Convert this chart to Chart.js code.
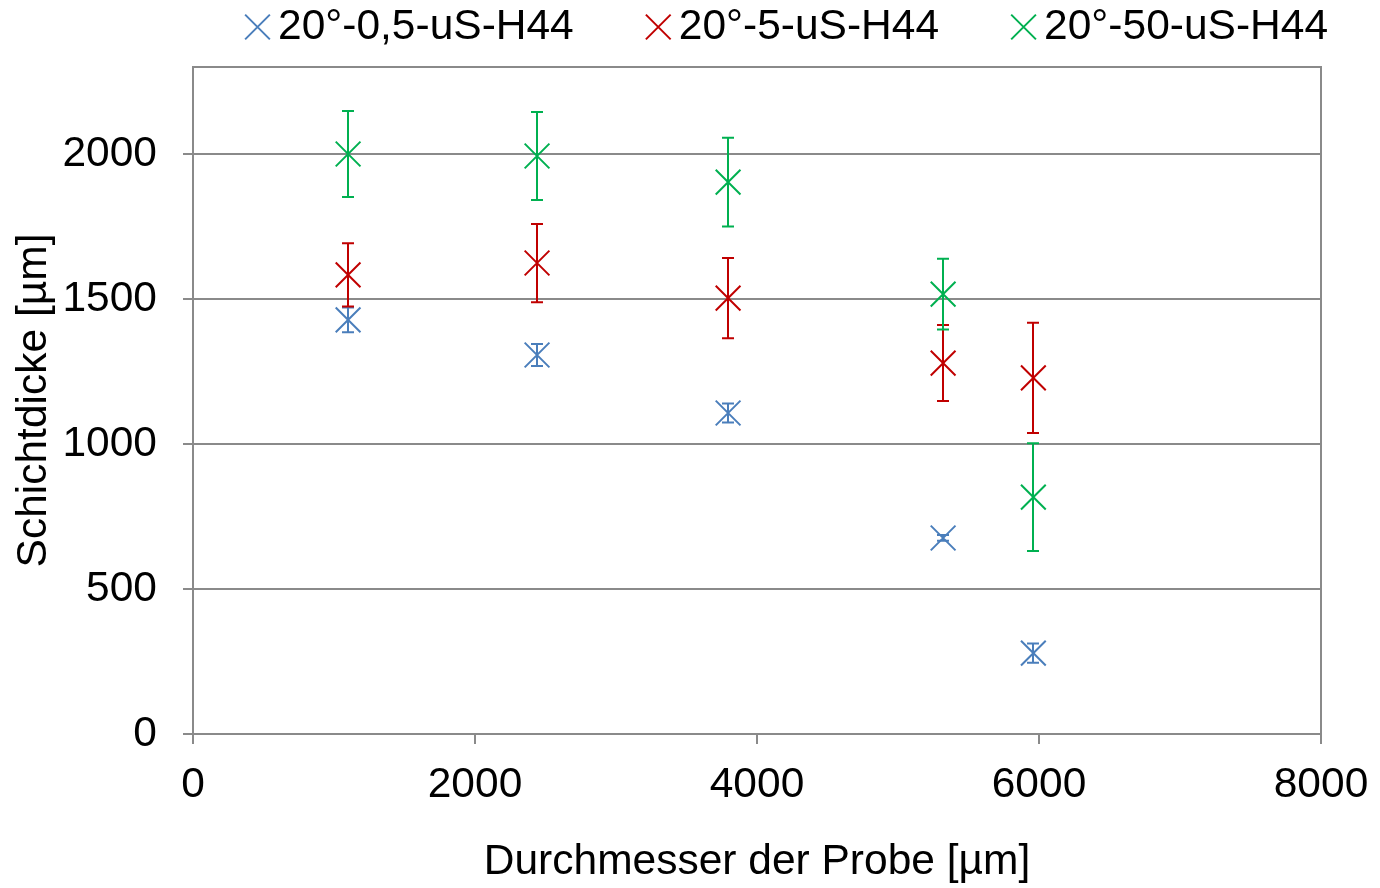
<!DOCTYPE html>
<html>
<head>
<meta charset="utf-8">
<script src="https://cdn.jsdelivr.net/npm/chart.js@4.4.1/dist/chart.umd.min.js"></script>
<style>
  html, body { margin: 0; padding: 0; background: #fff; }
</style>
</head>
<body>
<canvas id="myChart" width="1380" height="888"></canvas>
<script>
// sample diameters (x) shared by all series
const diameters = [1100, 2440, 3795, 5320, 5960];

// layer thickness + error (half range) per series
const blueY = [1428, 1307, 1107, 676, 279];
const blueErr = [43, 38, 33, 10, 33];
const redY = [1583, 1624, 1503, 1279, 1228];
const redErr = [109, 135, 138, 131, 190];
const greenY = [2000, 1993, 1903, 1517, 817];
const greenErr = [148, 152, 153, 122, 186];

const seriesLabels = ['20°-0,5-uS-H44', '20°-5-uS-H44', '20°-50-uS-H44'];
const seriesColors = ['#4a7ebb', '#c00000', '#00b050'];

const xTicks = [0, 2000, 4000, 6000, 8000];
const yTicks = [0, 500, 1000, 1500, 2000];

const family = "'Liberation Sans', Arial, sans-serif";
const font = { family: family, size: 42.5 };
const gray = '#8a8a8a';

function toPoints(ys) {
  return ys.map((v, i) => ({ x: diameters[i], y: v }));
}

const allY = [blueY, redY, greenY];
const allErr = [blueErr, redErr, greenErr];

var datasets = [];
seriesLabels.forEach((label, i) => {
  datasets.push({
    label: label,
    data: toPoints(allY[i]),
    errors: allErr[i],
    borderColor: seriesColors[i],
    backgroundColor: seriesColors[i],
    pointStyle: 'crossRot',
    pointRadius: 17.5,
    pointBorderWidth: 2,
    pointHoverRadius: 17.5,
  });
});

// vertical error bars with caps
const errorBars = {
  id: 'errorBars',
  afterDatasetsDraw(chart) {
    const { ctx, scales: { x, y } } = chart;
    chart.data.datasets.forEach((ds) => {
      ctx.save();
      ctx.strokeStyle = ds.borderColor;
      ctx.lineWidth = 2;
      ds.data.forEach((p, j) => {
        const px = Math.round(x.getPixelForValue(p.x));
        const top = y.getPixelForValue(p.y + ds.errors[j]);
        const bot = y.getPixelForValue(p.y - ds.errors[j]);
        ctx.beginPath();
        ctx.moveTo(px, top); ctx.lineTo(px, bot);
        ctx.moveTo(px - 6, top); ctx.lineTo(px + 6, top);
        ctx.moveTo(px - 6, bot); ctx.lineTo(px + 6, bot);
        ctx.stroke();
      });
      ctx.restore();
    });
  }
};

// top and right border of plot area
const frame = {
  id: 'frame',
  afterDraw(chart) {
    const { ctx, chartArea: a } = chart;
    ctx.save();
    ctx.strokeStyle = gray;
    ctx.lineWidth = 2;
    ctx.beginPath();
    ctx.moveTo(a.left, a.top);
    ctx.lineTo(a.right, a.top);
    ctx.lineTo(a.right, a.bottom);
    ctx.stroke();
    ctx.restore();
  }
};

// legend row on top (markers close to text, wide gaps between items)
const topLegend = {
  id: 'topLegend',
  afterDraw(chart) {
    const ctx = chart.ctx;
    ctx.save();
    ctx.font = '42.5px ' + family;
    ctx.textBaseline = 'middle';
    ctx.fillStyle = '#000';
    let x = 245;
    const y = 27;
    chart.data.datasets.forEach((ds) => {
      ctx.strokeStyle = ds.borderColor;
      ctx.lineWidth = 2;
      Chart.helpers.drawPoint(ctx, { pointStyle: 'crossRot', radius: 17.5, borderWidth: 2, rotation: 0 }, x + 12.5, y);
      ctx.fillText(ds.label, x + 33, y);
      x += 33 + ctx.measureText(ds.label).width + 72;
    });
    ctx.restore();
  }
};

const myChart = new Chart(document.getElementById('myChart'), {
  type: 'scatter',
  data: { datasets },
  options: {
    responsive: false,
    animation: false,
    layout: { padding: { top: 67, right: 59, left: 0, bottom: 0 } },
    plugins: {
      legend: { display: false },
      tooltip: { enabled: false },
    },
    scales: {
      x: {
        type: 'linear',
        min: 0,
        max: 8000,
        afterBuildTicks(s) { s.ticks = xTicks.map(v => ({ value: v })); },
        afterFit(s) { s.height = 154; s.paddingLeft = 0; s.paddingRight = 0; },
        ticks: { font: font, color: '#000', padding: 16, maxRotation: 0, callback: v => String(v) },
        grid: { drawOnChartArea: false, drawTicks: true, tickLength: 10, color: gray, lineWidth: 2 },
        border: { color: gray, width: 2 },
        title: { display: true, text: 'Durchmesser der Probe [µm]', font: font, color: '#000', padding: { top: 0, bottom: 0 } },
      },
      y: {
        type: 'linear',
        min: 0,
        max: 2300,
        afterBuildTicks(s) { s.ticks = yTicks.map(v => ({ value: v })); },
        afterFit(s) { s.width = 193; s.paddingTop = 0; s.paddingBottom = 0; },
        ticks: { font: font, color: '#000', padding: 26, callback: v => String(v) },
        grid: { drawTicks: true, tickLength: 10, color: gray, lineWidth: 2 },
        border: { color: gray, width: 2 },
        title: { display: true, text: 'Schichtdicke [µm]', font: font, color: '#000', padding: { top: 9, bottom: 0 } },
      }
    }
  },
  plugins: [errorBars, frame, topLegend]
});
</script>
</body>
</html>
